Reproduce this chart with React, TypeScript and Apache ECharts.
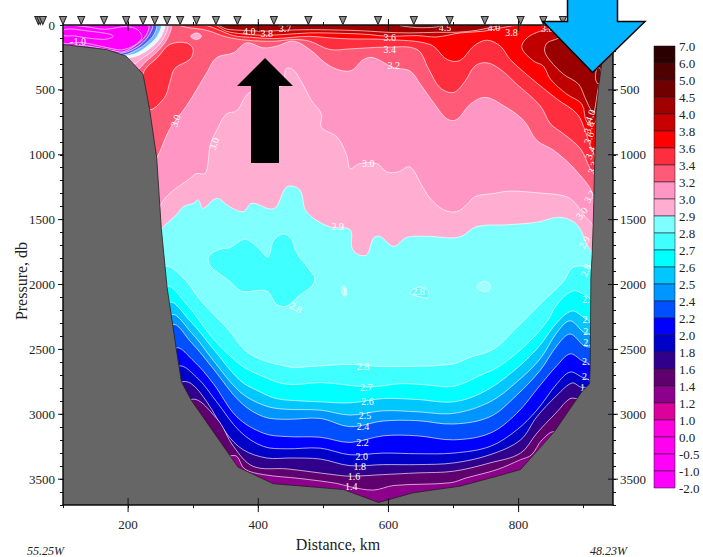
import React, { useEffect, useRef } from "react";
import * as echarts from "echarts";

const FONT = "'Liberation Serif', serif";

// isotherms, [distance km, pressure db], left wall to right wall
const iso40 = [[100,0],[336,0],[351,31],[377,41],[408,48],[438,41],[479,36],[541,41],[572,48],[597,56],[633,61],[674,56],[705,56],[736,41],[756,20],[777,0],[945,0]];
const iso38 = [[100,0],[331,0],[351,48],[377,69],[408,79],[438,74],[479,61],[541,66],[572,74],[597,87],[644,82],[674,92],[710,61],[746,48],[772,23],[803,0],[945,0]];
const iso36 = [[100,0],[315,0],[336,31],[362,82],[387,94],[423,105],[454,94],[479,87],[510,99],[541,107],[597,112],[664,150],[690,265],[710,273],[731,163],[751,117],[772,163],[787,265],[818,405],[859,571],[890,686],[903,826],[910,928],[918,1030]];
const iso34 = [[100,0],[274,0],[290,18],[321,41],[351,92],[382,117],[423,125],[454,112],[479,125],[510,189],[541,184],[597,171],[644,189],[662,342],[679,482],[700,520],[718,431],[733,316],[751,291],[772,342],[797,456],[833,622],[849,762],[869,839],[895,954],[910,1107],[918,1158]];
const iso32 = [[235,1050],[244,1025],[264,801],[290,622],[321,367],[336,252],[362,214],[382,138],[408,176],[428,163],[454,125],[479,189],[510,316],[541,354],[562,265],[577,252],[608,329],[633,354],[649,456],[669,597],[690,724],[705,729],[726,609],[749,558],[777,622],[808,737],[828,890],[854,966],[890,1132],[915,1336]];
const iso30 = [[249,1400],[264,1298],[295,1183],[305,1145],[318,1145],[323,1056],[326,928],[336,813],[351,686],[367,660],[387,520],[436,469],[443,337],[454,347],[467,444],[482,584],[497,686],[497,788],[521,864],[536,1005],[541,1107],[556,1068],[582,1068],[597,1132],[615,1132],[633,1094],[651,1234],[664,1336],[685,1425],[705,1438],[720,1387],[733,1323],[762,1298],[787,1280],[828,1293],[869,1316],[885,1362],[900,1464],[915,1566]];
const iso29 = [[250,1591],[274,1464],[285,1400],[300,1374],[308,1349],[315,1413],[336,1336],[356,1400],[377,1438],[390,1374],[418,1418],[428,1400],[444,1247],[464,1272],[474,1438],[508,1553],[541,1578],[544,1719],[554,1770],[567,1770],[577,1642],[587,1629],[608,1706],[628,1637],[659,1629],[708,1635],[736,1553],[782,1540],[828,1520],[864,1482],[890,1540],[905,1693],[915,1782]];
const iso28 = [[255,1872],[285,1949],[310,2115],[351,2331],[387,2535],[449,2637],[479,2632],[541,2616],[592,2632],[695,2616],[726,2560],[762,2497],[792,2357],[838,2127],[869,1975],[882,1872],[900,1859],[915,1897]];
const iso27 = [[258,2025],[290,2153],[331,2420],[372,2616],[403,2700],[444,2769],[495,2756],[541,2777],[572,2790],[618,2764],[654,2772],[700,2784],[741,2700],[772,2624],[818,2433],[844,2280],[859,2153],[882,2051],[900,2076],[913,2140]];
const iso26 = [[262,2148],[295,2280],[331,2497],[372,2739],[403,2828],[428,2879],[464,2897],[495,2904],[541,2912],[592,2879],[644,2886],[700,2904],[746,2828],[787,2688],[828,2497],[859,2293],[882,2204],[900,2255],[912,2306]];
const iso25 = [[265,2242],[297,2369],[331,2586],[372,2828],[408,2930],[438,2960],[495,2968],[541,3006],[592,2973],[644,2981],[700,2993],[756,2904],[797,2751],[833,2573],[859,2369],[879,2280],[900,2369],[912,2395]];
const iso24 = [[267,2318],[297,2446],[331,2650],[372,2904],[408,3019],[444,3039],[495,3032],[541,3095],[592,3052],[644,3049],[700,3075],[756,3019],[797,2853],[833,2662],[859,2471],[879,2382],[900,2471],[912,2497]];
const iso22 = [[272,2497],[300,2586],[331,2764],[367,3019],[408,3146],[444,3172],[495,3177],[541,3217],[592,3166],[644,3166],[700,3197],[756,3146],[797,2993],[833,2777],[859,2624],[879,2535],[897,2586],[912,2637]];
const iso20 = [[276,2637],[305,2713],[336,2904],[372,3133],[408,3248],[444,3266],[495,3261],[541,3312],[592,3299],[644,3304],[700,3299],[756,3248],[797,3121],[828,2968],[859,2764],[879,2675],[897,2713],[910,2751]];
const iso18 = [[280,2759],[297,2764],[321,2904],[351,3146],[377,3274],[413,3337],[449,3337],[495,3345],[541,3396],[592,3388],[644,3388],[700,3375],[756,3312],[803,3197],[828,3019],[859,2853],[882,2759],[895,2790],[905,2802]];
const iso16 = [[295,2891],[336,3032],[362,3248],[392,3401],[444,3421],[515,3465],[541,3477],[592,3465],[644,3452],[700,3439],[756,3375],[803,3299],[828,3146],[859,2981],[879,2879],[895,2879],[902,2828]];
const iso14 = [[355,3324],[367,3324],[379,3421],[408,3465],[464,3495],[521,3533],[541,3559],[577,3584],[608,3549],[695,3528],[720,3490],[767,3426],[803,3350],[820,3312],[836,3197],[856,3141]];

const isotherms = [iso40, iso38, iso36, iso34, iso32, iso30, iso29, iso28, iso27, iso26, iso25, iso24, iso22, iso20, iso18, iso16, iso14];
const isoColors = ["#c80000","#ff0000","#ff2e3e","#ff5a78","#ff96c4","#ffaed2","#80ffff","#40ffff","#00ffff","#00c8ff","#0096ff","#0050ff","#0000ff","#0000c8","#30008c","#60006e","#8c008c"];

// closed patches of warmer or colder water
const patchRedBlob = [[223,380],[233,648],[256,560],[264,445],[272,334],[295,265],[300,189],[290,138],[264,150],[247,240]];
const patchPale = [[296,87],[305,61],[313,87],[305,112]];
const patchStrip = [[618,5],[644,20],[674,15],[680,0],[618,0]];
const pocket38 = [[805,176],[813,99],[833,48],[854,23],[905,0],[946,0],[923,469],[918,750],[905,750],[897,609],[874,533],[849,418],[838,316],[823,278]];
const pocket40 = [[840,201],[844,138],[859,107],[905,0],[946,0],[923,469],[916,673],[913,673],[903,571],[892,456],[869,380],[849,278]];
const pocket45 = [[921,330],[918,400],[921,450],[926,440],[926,340]];
const blobA = [[324,1780],[341,1729],[356,1716],[379,1652],[397,1703],[415,1787],[423,1665],[438,1610],[451,1652],[459,1755],[482,1908],[487,1949],[482,2013],[462,2089],[444,2166],[428,2153],[413,2051],[374,2051],[356,1975],[341,1920],[326,1856]];
const blobB = [[528,2025],[533,2013],[536,2076],[531,2089]];
const blobC = [[633,2064],[646,2020],[659,2038],[662,2102],[644,2089]];
const blobD = [[736,2020],[746,1975],[756,2000],[754,2046],[744,2051]];
const rim1 = [[264,0],[261,97],[246,199],[226,288],[215,339],[195,300],[100,300],[100,0]];
const rim2 = [[259,0],[255,97],[241,186],[220,263],[208,301],[100,300],[100,0]];
const rim3 = [[254,0],[251,84],[238,161],[220,224],[203,250],[100,300],[100,0]];
const rim4 = [[249,0],[245,84],[233,148],[215,212],[197,237],[100,300],[100,0]];
const rim5 = [[242,0],[240,71],[226,148],[210,199],[195,230],[100,300],[100,0]];
const rim6 = [[236,0],[233,71],[220,148],[203,199],[190,217],[100,300],[100,0]];
const rim7 = [[230,0],[227,84],[210,161],[192,207],[179,199],[138,161],[100,143],[100,0]];
const patches = [patchRedBlob, patchPale, patchStrip, pocket38, pocket40, pocket45, blobA, blobB, blobC, blobD, rim1, rim2, rim3, rim4, rim5, rim6, rim7];
const patchColors = ["#ff2e3e","#ffaed2","#7a0000","#c00000","#9a0000","#8a0000","#40ffff","#a0ffff","#60ffff","#a0ffff","#ff96c4","#ffaed2","#e4fbff","#70b8ff","#4a5cff","#b040e8","#ff00ff"];

const loopA = [[100,12],[133,12],[164,33],[197,12],[215,38],[221,97],[210,156],[190,191],[174,181],[144,148],[128,135],[100,135]];
const loopB = [[103,33],[138,46],[172,71],[177,89],[164,110],[133,97],[118,84],[100,79]];

// sea floor outline
const seabed = [[100,150],[167,189],[197,240],[223,380],[233,648],[244,1025],[251,1566],[260,2025],[274,2497],[282,2751],[297,2891],[369,3408],[423,3535],[531,3580],[585,3680],[638,3605],[710,3554],[767,3477],[803,3426],[855,3133],[897,2827],[909,2764],[910,2637],[911,1949],[913,1770],[915,1464],[917,1030],[919,673],[923,470],[928,290],[938,0],[945,0],[945,3700],[100,3700]];

const stations = [62,65,69,100,128,163,197,223,241,260,280,305,335,368,424,477,530,584,639,694,748,803,838,868];
const majorKm = [200,400,600,800];
const majorDb = [500,1000,1500,2000,2500,3000,3500];

const contourLabels = [
  [123,128,"-1.0",0],[386,50,"4.0",0],[413,69,"3.8",0],[441,28,"3.7",0],[273,737,"3.0",-70],[332,915,"3.0",-70],[522,1553,"2.9",0],
  [602,95,"3.6",0],[602,190,"3.4",0],[687,23,"4.5",0],[762,23,"4.0",0],[789,54,"3.8",0],[844,28,"3.8",0],[608,311,"3.2",0],[569,1068,"3.0",0],
  [910,700,"4.0",-70],[908,790,"3.8",-70],[908,870,"3.6",-70],[910,985,"3.4",-70],[914,1100,"3.3",-70],[909,1323,"3.2",-60],[897,1451,"3.0",-50],[901,1675,"2.9",-60],[903,1890,"2.8",-70],
  [561,2632,"2.8",0],[566,2790,"2.7",0],[568,2900,"2.6",0],[564,3006,"2.5",0],[561,3095,"2.4",0],[560,3217,"2.2",0],[559,3324,"2.0",0],[556,3406,"1.8",0],[547,3477,"1.6",0],[543,3559,"1.4",0],
  [646,2056,"2.8",0],[458,2178,"2.8",30],[532,2051,"1",0],
  [903,2115,"2.",0],[904,2267,"2.",0],[905,2360,"2.",0],[905,2450,"2.",0],[903,2590,"2.",0],[903,2710,"2.",0],[900,2795,"1.",0],
];

const legendLabels = ["7.0","6.0","5.0","4.5","4.0","3.8","3.6","3.4","3.2","3.0","2.9","2.8","2.7","2.6","2.5","2.4","2.2","2.0","1.8","1.6","1.4","1.2","1.0","0.0","-0.5","-1.0","-2.0"];
const legendColors = ["#2a0000","#4f0000","#700000","#a00000","#c80000","#ff0000","#ff2e3e","#ff5a78","#ff96c4","#ffaed2","#80ffff","#40ffff","#00ffff","#00c8ff","#0096ff","#0050ff","#0000ff","#0000c8","#30008c","#60006e","#8c008c","#dc009c","#ff00e0","#ff00f0","#ff00f8","#ff00ff"];

const LINE = "rgba(255,255,255,0.8)";

function shapeSeries(pts: number[][], fill: string, stroke: string, z: number, smooth = 0.35) {
  return {
    type: "custom", coordinateSystem: "cartesian2d", xAxisIndex: 0, yAxisIndex: 0, silent: true, z, clip: true,
    data: pts,
    renderItem: (params: any, api: any) => {
      if (params.dataIndex !== 0) return null;
      const points = pts.map((p) => api.coord(p));
      return {
        type: "polygon",
        shape: { points, smooth },
        style: { fill, stroke, lineWidth: 0.8 },
      };
    },
  };
}

const axisBase = {
  axisLine: { onZero: false, lineStyle: { color: "#111", width: 1.5 } },
  axisTick: { length: 3, lineStyle: { color: "#111" } },
  splitLine: { show: false },
  z: 50,
};
const labelStyle = { fontFamily: FONT, fontSize: 13, color: "#222" };

export default function App() {
  const ref = useRef<HTMLDivElement>(null);
  useEffect(() => {
    const chart = echarts.init(ref.current!, undefined, { renderer: "svg" });
    const series: any[] = [
      shapeSeries([[100, 0], [945, 0], [945, 3700], [100, 3700]], "#a00000", "none", 2, 0),
      ...isotherms.map((line, i) =>
        shapeSeries([...line, [945, 3700], [100, 3700]], isoColors[i], LINE, 3)),
      ...patches.map((p, i) => shapeSeries(p, patchColors[i], LINE, 4)),
      shapeSeries(loopA, "none", LINE, 5),
      shapeSeries(loopB, "none", LINE, 5),
      {
        type: "custom", coordinateSystem: "cartesian2d", xAxisIndex: 0, yAxisIndex: 0, silent: true, z: 6,
        data: contourLabels.map((l) => [l[0], l[1]]),
        renderItem: (params: any, api: any) => {
          const l = contourLabels[params.dataIndex];
          const p = api.coord([l[0], l[1]]);
          return {
            type: "text", x: p[0], y: p[1], rotation: -((l[3] as number) * Math.PI) / 180,
            style: { text: l[2], fill: "#fff", font: `10px ${FONT}`, textAlign: "center", textVerticalAlign: "middle", verticalAlign: "middle" },
          };
        },
      },
      shapeSeries(seabed, "#666666", "#222", 7, 0),
      {
        type: "custom", coordinateSystem: "cartesian2d", xAxisIndex: 0, yAxisIndex: 0, silent: true, z: 60,
        data: majorKm.map((v) => [v, 0]),
        renderItem: (_: any, api: any) => {
          const t = api.coord([api.value(0), 0]);
          const b = api.coord([api.value(0), 3700]);
          const ls = { stroke: "#111", lineWidth: 1 };
          return {
            type: "group",
            children: [
              { type: "line", shape: { x1: t[0], y1: t[1] - 6, x2: t[0], y2: t[1] + 6 }, style: ls },
              { type: "line", shape: { x1: b[0], y1: b[1] - 7, x2: b[0], y2: b[1] + 7 }, style: ls },
            ],
          };
        },
      },
      {
        type: "custom", coordinateSystem: "cartesian2d", xAxisIndex: 0, yAxisIndex: 0, silent: true, z: 60,
        data: majorDb.map((v) => [100, v]),
        renderItem: (_: any, api: any) => {
          const l = api.coord([100, api.value(1)]);
          const r = api.coord([945, api.value(1)]);
          const ls = { stroke: "#111", lineWidth: 1 };
          return {
            type: "group",
            children: [
              { type: "line", shape: { x1: l[0] - 5, y1: l[1], x2: l[0] + 1, y2: l[1] }, style: ls },
              { type: "line", shape: { x1: r[0] - 5, y1: r[1], x2: r[0] + 5, y2: r[1] }, style: ls },
            ],
          };
        },
      },
      {
        type: "scatter", xAxisIndex: 0, yAxisIndex: 0, clip: false, silent: true, z: 61,
        data: stations.map((s) => [s, 0]),
        symbol: "triangle", symbolSize: [7, 8], symbolRotate: 180, symbolOffset: [0, -4.5],
        itemStyle: { color: "#8c8c8c", borderColor: "#222", borderWidth: 1, opacity: 1 },
      },
      {
        type: "custom", coordinateSystem: "cartesian2d", xAxisIndex: 2, yAxisIndex: 2, silent: true, z: 5,
        data: legendColors.map((_, i) => [0, i]),
        renderItem: (params: any, api: any) => {
          const i = params.dataIndex;
          const a = api.coord([0, i]);
          const b = api.coord([1, i + 1]);
          return {
            type: "rect",
            shape: { x: a[0], y: a[1], width: b[0] - a[0], height: b[1] - a[1] },
            style: { fill: legendColors[i], stroke: "rgba(30,30,40,0.55)", lineWidth: 1 },
          };
        },
      },
    ];

    chart.setOption({
      animation: false,
      backgroundColor: "#fff",
      grid: [
        { left: 63, top: 25, width: 550, height: 484, containLabel: false },
        { left: 654, top: 46, width: 21, height: 442, containLabel: false },
      ],
      xAxis: [
        {
          ...axisBase, gridIndex: 0, type: "value", position: "bottom", min: 100, max: 945, interval: 100,
          name: "Distance, km", nameLocation: "middle", nameGap: 30,
          nameTextStyle: { fontFamily: FONT, fontSize: 16, color: "#222" },
          axisLabel: { ...labelStyle, margin: 13, showMaxLabel: false, formatter: (v: number) => (v % 200 === 0 ? String(v) : "") },
        },
        {
          ...axisBase, gridIndex: 0, type: "value", position: "top", min: 100, max: 945, interval: 100,
          axisLabel: { show: false },
        },
        { gridIndex: 1, type: "value", min: 0, max: 1, show: false },
      ],
      yAxis: [
        {
          ...axisBase, gridIndex: 0, type: "value", position: "left", inverse: true, min: 0, max: 3700, interval: 100,
          axisLabel: { ...labelStyle, margin: 8, formatter: (v: number) => (v % 500 === 0 ? String(v) : "") },
        },
        {
          ...axisBase, gridIndex: 0, type: "value", position: "right", inverse: true, min: 0, max: 3700, interval: 100,
          axisLabel: { ...labelStyle, margin: 7, formatter: (v: number) => (v % 500 === 0 ? String(v) : "") },
        },
        {
          gridIndex: 1, type: "category", position: "right", inverse: true, boundaryGap: false, data: legendLabels,
          axisLine: { show: false }, axisTick: { show: false }, splitLine: { show: false },
          axisLabel: { ...labelStyle, margin: 4, interval: 0 },
        },
      ],
      graphic: [
        { type: "text", x: 21, y: 281, rotation: Math.PI / 2, z: 100, style: { text: "Pressure, db", font: `16px ${FONT}`, fill: "#222", textAlign: "center", verticalAlign: "middle" } },
        { type: "text", x: 27, y: 545, z: 100, style: { text: "55.25W", font: `italic 12px ${FONT}`, fill: "#222" } },
        { type: "text", x: 590, y: 545, z: 100, style: { text: "48.23W", font: `italic 12px ${FONT}`, fill: "#222" } },
        { type: "polygon", z: 100, shape: { points: [[265, 58], [293, 86], [279, 86], [279, 163], [251, 163], [251, 86], [237, 86]] }, style: { fill: "#000" } },
        { type: "polygon", z: 100, shape: { points: [[567.5, -5], [617.5, -5], [617.5, 21.5], [645, 21.5], [592.5, 72.5], [543, 21.5], [567.5, 21.5]] }, style: { fill: "#00b4ff", stroke: "#000", lineWidth: 1.5 } },
      ],
      series,
    });
    return () => chart.dispose();
  }, []);
  return <div ref={ref} style={{ position: "absolute", left: 0, top: 0, width: 703, height: 557 }} />;
}
